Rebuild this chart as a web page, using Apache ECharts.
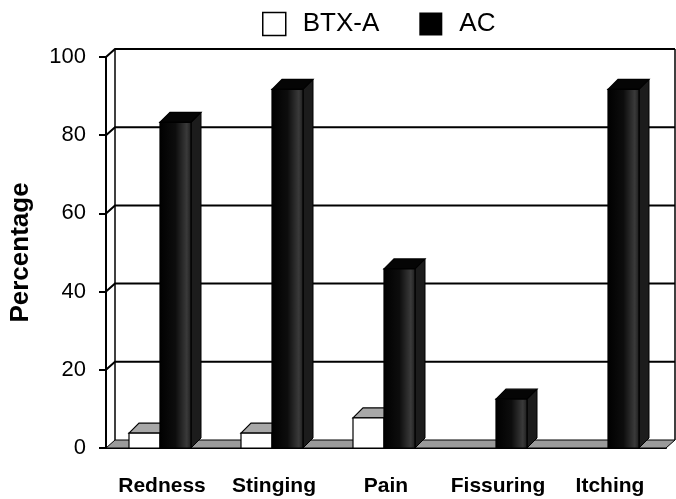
<!DOCTYPE html>
<html>
<head>
<meta charset="utf-8">
<script src="https://cdn.jsdelivr.net/npm/echarts/dist/echarts.min.js"></script>
<style>
  html, body { margin: 0; padding: 0; background: #fff; }
  #chart { width: 676px; height: 499px; }
</style>
</head>
<body>
<div id="chart"></div>
<script>
const categories = ['Redness', 'Stinging', 'Pain', 'Fissuring', 'Itching'];
const btxValues = [3.8, 3.8, 7.7, 0, 0];
const acValues = [83.3, 91.7, 45.8, 12.5, 91.7];
const yTicks = [0, 20, 40, 60, 80, 100];

// depth of the back wall and of the bars (3d look)
const WALL_DX = 9, WALL_DY = 8;
const BAR_DX = 10, BAR_DY = 10;
const BAR_W = 31;

const fontFamily = '"Liberation Sans", Arial, sans-serif';

function wallItem(params, api) {
  const cs = params.coordSys;
  const v = api.value(0);
  const y = api.coord([0, v])[1];
  const gx = cs.x, gw = cs.width;
  const children = [];
  if (v === 0) {
    // floor
    children.push({
      type: 'polygon',
      shape: { points: [[gx, y], [gx + WALL_DX, y - WALL_DY], [gx + gw + WALL_DX, y - WALL_DY], [gx + gw, y]] },
      style: { fill: '#9a9a9a', stroke: '#000', lineWidth: 1 }
    });
    const yTop = api.coord([0, yTicks[yTicks.length - 1]])[1];
    children.push({
      type: 'line',
      shape: { x1: gx + WALL_DX, y1: y - WALL_DY, x2: gx + WALL_DX, y2: yTop - WALL_DY },
      style: { stroke: '#000', lineWidth: 1.5 }
    });
    children.push({
      type: 'line',
      shape: { x1: gx + gw + WALL_DX, y1: y - WALL_DY, x2: gx + gw + WALL_DX, y2: yTop - WALL_DY },
      style: { stroke: '#000', lineWidth: 1.5 }
    });
  } else {
    children.push({
      type: 'polyline',
      shape: { points: [[gx, y], [gx + WALL_DX, y - WALL_DY], [gx + gw + WALL_DX, y - WALL_DY]] },
      style: { stroke: '#000', lineWidth: 2, fill: null }
    });
  }
  return { type: 'group', children: children };
}

function barRenderer(seriesPos, front, top, side, border) {
  return function (params, api) {
    const cat = api.value(0);
    const val = api.value(1);
    if (!val) return null;
    const base = api.coord([cat, 0]);
    const yTop = api.coord([cat, val])[1];
    const x0 = base[0] - 33 + seriesPos * BAR_W;
    const x1 = x0 + BAR_W;
    const y0 = base[1];
    return {
      type: 'group',
      children: [
        {
          type: 'polygon',
          shape: { points: [[x1, yTop], [x1 + BAR_DX, yTop - BAR_DY], [x1 + BAR_DX, y0 - BAR_DY], [x1, y0]] },
          style: { fill: side, stroke: border, lineWidth: 1 }
        },
        {
          type: 'polygon',
          shape: { points: [[x0, yTop], [x0 + BAR_DX, yTop - BAR_DY], [x1 + BAR_DX, yTop - BAR_DY], [x1, yTop]] },
          style: { fill: top, stroke: border, lineWidth: 1.2 }
        },
        {
          type: 'rect',
          shape: { x: x0, y: yTop, width: BAR_W, height: y0 - yTop },
          style: { fill: front, stroke: border, lineWidth: 1.2 }
        }
      ]
    };
  };
}

const acFront = new echarts.graphic.LinearGradient(0, 0, 1, 0, [
  { offset: 0, color: '#000' },
  { offset: 0.5, color: '#0d0d0d' },
  { offset: 0.85, color: '#3a3a3a' },
  { offset: 1, color: '#1a1a1a' }
]);

const chart = echarts.init(document.getElementById('chart'));
chart.setOption({
  animation: false,
  textStyle: { fontFamily: fontFamily },
  legend: {
    left: 262,
    top: 11,
    padding: 0,
    itemWidth: 23,
    itemHeight: 23,
    itemGap: 40,
    icon: 'rect',
    textStyle: { fontSize: 26, color: '#000', fontFamily: fontFamily, padding: [0, 0, 0, 12] },
    data: [
      { name: 'BTX-A', itemStyle: { color: '#fff', borderColor: '#000', borderWidth: 1.5 } },
      { name: 'AC', itemStyle: { color: '#000' } }
    ]
  },
  grid: { left: 104, right: 10, top: 57, bottom: 51, containLabel: false },
  xAxis: {
    type: 'category',
    data: categories,
    axisLine: { lineStyle: { color: '#000', width: 2 } },
    axisTick: { length: 8, lineStyle: { color: '#000', width: 2 } },
    axisLabel: { interval: 0, margin: 28, fontSize: 21, fontWeight: 'bold', color: '#000', fontFamily: fontFamily },
    splitLine: { show: false }
  },
  yAxis: {
    type: 'value',
    min: 0,
    max: 100,
    interval: 20,
    name: 'Percentage',
    nameLocation: 'middle',
    nameRotate: 90,
    nameGap: 72,
    nameTextStyle: { fontSize: 26, fontWeight: 'bold', color: '#000', fontFamily: fontFamily },
    axisLine: { show: true, lineStyle: { color: '#000', width: 2 } },
    axisTick: { show: true, length: 7, lineStyle: { color: '#000', width: 2 } },
    axisLabel: { margin: 20, fontSize: 22, color: '#000', fontFamily: fontFamily },
    splitLine: { show: false }
  },
  series: [
    {
      name: 'walls',
      type: 'custom',
      clip: false,
      silent: true,
      z: 1,
      renderItem: wallItem,
      encode: { x: -1, y: 0 },
      data: yTicks.map(v => [v])
    },
    {
      name: 'BTX-A',
      type: 'custom',
      clip: false,
      z: 2,
      itemStyle: { color: '#fff', borderColor: '#000' },
      renderItem: barRenderer(0, '#fff', '#a8a8a8', '#d0d0d0', '#000'),
      encode: { x: 0, y: 1 },
      data: btxValues.map((v, i) => [i, v])
    },
    {
      name: 'AC',
      type: 'custom',
      clip: false,
      z: 3,
      itemStyle: { color: '#000' },
      renderItem: barRenderer(1, acFront, '#050505', '#1c1c1c', '#000'),
      encode: { x: 0, y: 1 },
      data: acValues.map((v, i) => [i, v])
    }
  ]
});
</script>
</body>
</html>
